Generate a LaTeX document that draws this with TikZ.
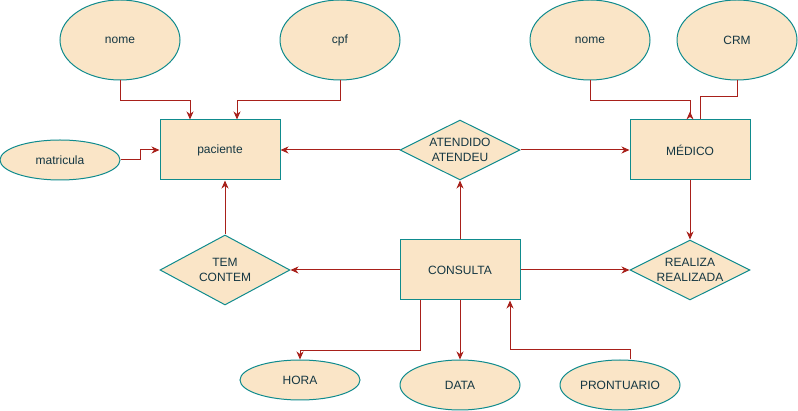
\documentclass[tikz,border=0pt]{standalone}
\usepackage{fontspec}
\setmainfont{Liberation Sans}
\usetikzlibrary{shapes.geometric,arrows.meta}
\definecolor{fillc}{HTML}{FAE5C7}
\definecolor{strokec}{HTML}{0F8B8D}
\definecolor{textc}{HTML}{143642}
\definecolor{edgec}{HTML}{A8201A}
\tikzset{
  base/.style={fill=fillc,draw=strokec,line width=1pt,text=textc,inner sep=0pt,align=center,font=\fontsize{12}{14.5}\selectfont},
  attr/.style={base,ellipse,minimum width=120pt},
  ent/.style={base,rectangle,minimum width=120pt,minimum height=60pt},
  rel/.style={base,diamond,shape aspect=2},
  edge/.style={draw=edgec,line width=1pt},
  arr/.style={edge,-{Stealth[length=8pt,width=7pt,inset=2.5pt]}},
  rarr/.style={edge,-{Stealth[length=8pt,width=7pt,inset=2.5pt,reversed]}}
}
\begin{document}
\begin{tikzpicture}[x=1pt,y=-1pt]
\path[use as bounding box] (0,0) rectangle (798,411);
% attributes
\node[attr,minimum height=80pt] (nome1) at (120,40) {nome};
\node[attr,minimum height=80pt] (cpf) at (340,40) {cpf};
\node[attr,minimum height=40pt] (mat) at (60,160) {matricula};
\node[attr,minimum height=80pt] (nome2) at (590,40) {nome};
\node[attr,minimum height=80pt] (crm) at (737,40) {CRM};
\node[attr,minimum height=40pt] (hora) at (300,380) {HORA};
\node[attr,minimum height=50pt] (data) at (460,385) {DATA};
\node[attr,minimum height=50pt] (pront) at (620,385) {PRONTUARIO};
% entities
\node[ent] (pac) at (220,150) {paciente};
\node[ent] (med) at (690,150) {MÉDICO};
\node[ent] (con) at (460,270) {CONSULTA};
% relationships
\node[rel,minimum width=120pt,minimum height=60pt] (ate) at (460,150) {ATENDIDO\\ATENDEU};
\node[rel,minimum width=130pt,minimum height=70pt] (tem) at (225,270) {TEM\\CONTEM};
\node[rel,minimum width=120pt,minimum height=60pt] (rea) at (690,270) {REALIZA\\REALIZADA};
% connectors
\draw[arr] (nome1.south) -- ++(0,20) -| ([xshift=-30pt]pac.north);
\draw[arr] (cpf.south) -- ++(0,20) -| ([xshift=17pt]pac.north);
\draw[arr] (mat.east) -- ++(20,0) |- (pac.west);
\draw[arr] (ate.west) -- (pac.east);
\draw[arr] (ate.east) -- (med.west);
\draw[rarr] (nome2.south) -- ++(0,20) -| (med.north);
\draw[edge] (crm.south) -- ++(0,16) -| ([xshift=10pt]med.north);
\draw[arr] (med.south) -- (rea.north);
\draw[arr] (con.north) -- (ate.south);
\draw[arr] (con.west) -- (tem.east);
\draw[arr] (tem.north) -- (tem.north |- pac.south);
\draw[arr] (con.east) -- (rea.west);
\draw[arr] ([xshift=-40pt]con.south) -- ++(0,50) -| (hora.north);
\draw[arr] (con.south) -- (data.north);
\draw[arr] ([xshift=10pt]pront.north) -- ++(0,-10) -| ([xshift=50pt]con.south);
\end{tikzpicture}
\end{document}
